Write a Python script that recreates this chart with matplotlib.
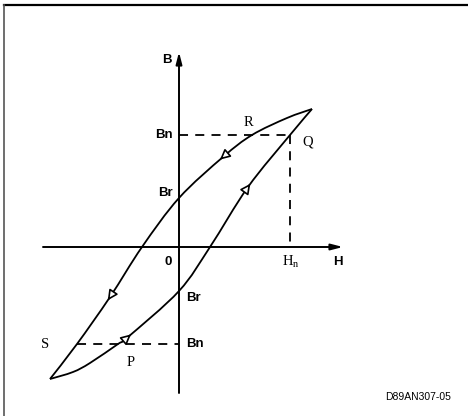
import numpy as np
import matplotlib
matplotlib.use('Agg')
import matplotlib.pyplot as plt
from matplotlib.path import Path
from matplotlib.patches import PathPatch

# hysteresis loop, values (pixel-ish units, origin at 0)
upper_H = [133, 108, 73, 44, 0, -37, -69, -102, -129]
upper_B = [138, 129, 112, 90, 49, 0, -50, -97, -132]
lower_H = [-129, -106, -89, -61, -51, 0, 31, 69, 111, 133]
lower_B = [-132, -125, -116, -97, -90, -44, 0, 60, 112, 138]

upper_arrows = [3, 6]   # indices on upper branch where the open triangles sit
lower_arrows = [4, 7]

Hn = 111
Bn = 112
Bn_neg = -97
S_H = -102
mark_text = ['R', 'Q', 'S', 'P']

sans = 'Liberation Sans'
serif = 'Liberation Serif'

fig = plt.figure(figsize=(4.68, 4.16), dpi=100)
ax = fig.add_axes([0, 0, 1, 1])
ax.set_xlim(-179, 289)
ax.set_ylim(-169, 247)
ax.axis('off')

# frame (only top and left show in the scan)
ax.plot([0.009, 1], [0.988, 0.988], color='black', lw=1.6, transform=ax.transAxes)
ax.plot([0.009, 0.009], [0.988, 0], color='#555555', lw=1.2, transform=ax.transAxes)

# axes with arrows
ax.annotate('', xy=(164, 0), xytext=(-136, 0),
            arrowprops=dict(arrowstyle='-|>,head_length=0.7,head_width=0.18',
                            lw=1.4, color='black', shrinkA=0, shrinkB=0))
ax.annotate('', xy=(0, 195), xytext=(0, -146),
            arrowprops=dict(arrowstyle='-|>,head_length=0.7,head_width=0.18',
                            lw=1.4, color='black', shrinkA=0, shrinkB=0))


def smooth(hs, bs):
    # catmull-rom through the read points, drawn as bezier segments
    p = np.column_stack([hs, bs]).astype(float)
    verts = [p[0]]
    codes = [Path.MOVETO]
    n = len(p)
    for i in range(n - 1):
        p0 = p[max(i - 1, 0)]
        p1 = p[i]
        p2 = p[i + 1]
        p3 = p[min(i + 2, n - 1)]
        verts += [p1 + (p2 - p0) / 6, p2 - (p3 - p1) / 6, p2]
        codes += [Path.CURVE4] * 3
    return Path(verts, codes)


ax.add_patch(PathPatch(smooth(upper_H, upper_B), fill=False, ec='black', lw=1.3))
ax.add_patch(PathPatch(smooth(lower_H, lower_B), fill=False, ec='black', lw=1.3))


def open_arrow(hs, bs, k):
    p = np.array([hs[k], bs[k]], float)
    d = np.array([hs[k + 1] - hs[k - 1], bs[k + 1] - bs[k - 1]], float)
    d = d / np.hypot(*d)
    ax.annotate('', xy=p + d * 4, xytext=p - d * 3,
                arrowprops=dict(arrowstyle='-|>,head_length=0.6,head_width=0.3',
                                fc='white', ec='black', lw=1.2,
                                shrinkA=0, shrinkB=0))


for k in upper_arrows:
    open_arrow(upper_H, upper_B, k)
for k in lower_arrows:
    open_arrow(lower_H, lower_B, k)

# dashed guides
dash = dict(color='black', lw=1.3, dashes=(5, 4))
ax.plot([0, Hn], [Bn, Bn], **dash)
ax.plot([Hn, Hn], [Bn, 0], **dash)
ax.plot([S_H, 0], [Bn_neg, Bn_neg], **dash)

# labels
bold = dict(family=sans, fontweight='bold', fontsize=9.5, va='center')
ax.text(-12, 187, 'B', ha='center', **bold)
ax.text(159, -15, 'H', ha='center', **bold)
ax.text(-11, -15, '0', ha='center', **bold)
ax.text(-6, Bn, 'Bn', ha='right', **bold)
ax.text(-6, 54, 'Br', ha='right', **bold)
ax.text(7, -51, 'Br', ha='left', **bold)
ax.text(7, Bn_neg, 'Bn', ha='left', **bold)

m = dict(family=serif, fontsize=10.5, va='center', ha='center')
ax.text(69, 125, mark_text[0], **m)
ax.text(129, 105, mark_text[1], **m)
ax.text(-134, Bn_neg, mark_text[2], **m)
ax.text(-48, -115, mark_text[3], **m)
ax.text(Hn + 1, -15, 'H$_{\\mathregular{n}}$', **m)

ax.text(239, -150, 'D89AN307-05', family=sans, fontsize=7.5, ha='center', va='center')

plt.savefig('out.png', dpi=100)
